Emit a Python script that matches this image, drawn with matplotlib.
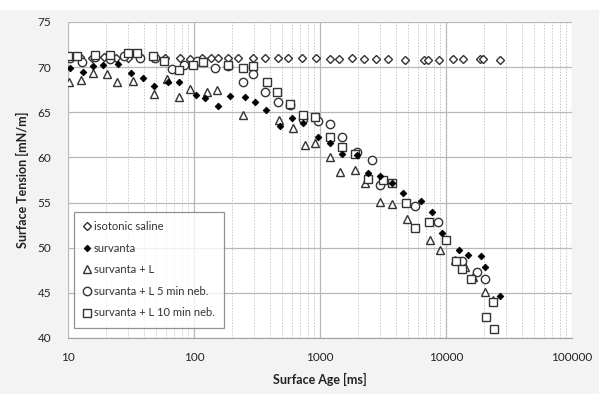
import matplotlib
matplotlib.use("Agg")
import matplotlib.pyplot as plt
from matplotlib.ticker import LogLocator, FixedLocator, NullFormatter
import numpy as np

plt.rcParams['font.family'] = ['Lato', 'DejaVu Sans']

# isotonic saline
saline_x = [10.4, 12.5, 15.5, 19.3, 24.0, 29.9, 37.2, 47.2, 59.3, 77.4, 93, 115.6, 136, 155,
            186, 223, 293, 365, 462, 553, 718, 929, 1196, 1409, 1785, 2226, 2770, 3446,
            4698, 6666, 7173, 8767, 11320, 13600, 18560, 19590, 27000]
saline_y = [71.0, 71.1, 71.0, 71.1, 71.0, 71.0, 71.1, 71.0, 71.0, 71.0, 70.9, 71.0, 71.0, 71.0,
            71.0, 71.0, 71.0, 71.0, 71.0, 71.0, 71.0, 71.0, 70.9, 70.9, 71.0, 70.9, 70.9, 70.9,
            70.8, 70.8, 70.8, 70.8, 70.9, 70.9, 70.9, 70.9, 70.8]

# survanta
surv_x = [10.4, 13.1, 15.8, 18.9, 24.9, 31.6, 39.3, 48.2, 62.2, 76.1, 103.8, 122.4, 155, 193,
          254, 305, 372, 481, 597, 730, 963, 1198, 1497, 1965, 2396, 2984, 3716, 4550, 6300,
          7770, 9330, 12740, 14990, 18990, 20430, 26700]
surv_y = [69.9, 69.5, 70.1, 70.2, 70.4, 69.3, 68.8, 67.9, 68.3, 68.3, 66.9, 66.6, 65.7, 66.8,
          66.7, 66.1, 65.3, 63.5, 64.4, 63.8, 62.3, 61.6, 60.4, 60.3, 58.3, 57.9, 57.2, 56.1, 55.2,
          54.0, 51.6, 49.8, 49.2, 49.1, 47.9, 44.7]

# survanta + L
survL_x = [10.2, 12.7, 15.8, 20.4, 24.5, 32.8, 48.2, 61.1, 76.1, 92.9, 127, 152, 245, 474, 610,
           757, 910, 1198, 1437, 1891, 2265, 2984, 3716, 4886, 7420, 8900, 11710, 14060, 16290,
           20430, 23620]
survL_y = [68.4, 68.6, 69.4, 69.2, 68.3, 68.5, 67.0, 68.7, 66.7, 67.6, 67.3, 67.5, 64.7, 64.2, 63.3,
           61.4, 61.6, 60.0, 58.4, 58.6, 57.2, 55.1, 54.8, 53.2, 50.9, 49.8, 48.6, 47.9, 46.8,
           45.1, 44.2]

# survanta + L 5 min neb.
survL5_x = [10.4, 12.9, 16.4, 21.5, 27.8, 37.2, 48.9, 66.9, 83.2, 105.6, 147, 186, 245, 295, 365,
            462, 575, 730, 963, 1198, 1497, 1965, 2595, 2984, 5680, 8620, 13500, 17470, 20430]
survL5_y = [71.0, 70.6, 71.1, 70.9, 71.2, 71.0, 71.0, 69.8, 70.2, 70.7, 69.9, 70.1, 68.3, 69.2, 67.2,
            66.1, 65.8, 64.3, 64.0, 63.7, 62.3, 60.6, 59.7, 57.0, 54.6, 52.9, 48.5, 47.3, 46.5]

# survanta + L 10 min neb.
survL10_x = [10.0, 11.8, 16.4, 21.5, 29.9, 35.3, 47.2, 57.7, 76.1, 98.2, 118, 186, 245, 295, 380,
             454, 575, 730, 910, 1198, 1497, 1891, 2396, 3160, 3716, 4810, 5680, 7300, 10070,
             12080, 13500, 15880, 20780, 23620, 24000]
survL10_y = [71.2, 71.2, 71.4, 71.3, 71.6, 71.6, 71.2, 70.7, 69.7, 70.2, 70.6, 70.2, 69.9, 70.1, 68.4,
             67.2, 65.9, 64.7, 64.5, 62.3, 61.2, 60.4, 57.6, 57.5, 57.2, 55.0, 52.2, 52.8, 50.9,
             48.5, 47.6, 46.5, 42.3, 44.0, 41.0]

labels = ["isotonic saline", "survanta", "survanta + L",
          "survanta + L 5 min neb.", "survanta + L 10 min neb."]

fig = plt.figure(figsize=(5.99, 3.94), dpi=100, facecolor='#f3f3f3')
fig.patches.append(plt.Rectangle((0, 1 - 10/394), 1, 10/394, transform=fig.transFigure,
                                 facecolor='white', edgecolor='none', zorder=0))
ax = fig.add_axes([68/599, 1 - 338/394, 504/599, 316/394])
ax.set_facecolor('white')

ec = '#333333'
ax.plot(saline_x, saline_y, ls='none', marker='D', ms=3.6, mfc='white', mec=ec, mew=1.0,
        label=labels[0], zorder=3)
ax.plot(survL_x, survL_y, ls='none', marker='^', ms=5.6, mfc='white', mec=ec, mew=1.0,
        label=labels[2], zorder=3)
ax.plot(survL5_x, survL5_y, ls='none', marker='o', ms=6.0, mfc='white', mec=ec, mew=1.0,
        label=labels[3], zorder=3)
ax.plot(survL10_x, survL10_y, ls='none', marker='s', ms=5.8, mfc='white', mec=ec, mew=1.0,
        label=labels[4], zorder=3)
ax.plot(surv_x, surv_y, ls='none', marker='D', ms=3.4, mfc='black', mec='black', mew=0.6,
        label=labels[1], zorder=4)

ax.set_xscale('log')
ax.set_xlim(10, 100000)
ax.set_ylim(40, 75)
ax.set_yticks([40, 45, 50, 55, 60, 65, 70, 75])
ax.xaxis.set_major_locator(FixedLocator([10, 100, 1000, 10000, 100000]))
ax.set_xticklabels(['10', '100', '1000', '10000', '100000'])
ax.xaxis.set_minor_locator(LogLocator(base=10, subs=np.arange(2, 10)))
ax.xaxis.set_minor_formatter(NullFormatter())

ax.grid(True, which='major', axis='both', color='#b8b8b8', lw=0.9)
ax.grid(True, which='minor', axis='x', color='#c8c8c8', lw=0.7, ls=(0, (1.5, 1.5)))
ax.set_axisbelow(True)

for s in ['top', 'right']:
    ax.spines[s].set_visible(False)
ax.spines['left'].set_visible(False)
ax.spines['bottom'].set_color('#a0a0a0')
ax.tick_params(axis='both', which='both', length=0, labelsize=8.5, colors='#222222', pad=8)
ax.tick_params(axis='x', which='major', pad=10)
ax.tick_params(axis='y', pad=12)

ax.set_xlabel('Surface Age [ms]', fontsize=9, fontweight='bold', color='#222222', labelpad=7)
ax.set_ylabel('Surface Tension [mN/m]', fontsize=9, fontweight='bold', color='#222222', labelpad=6)

h, l = ax.get_legend_handles_labels()
order = [0, 4, 1, 2, 3]
leg = ax.legend([h[i] for i in order], [l[i] for i in order],
                loc='lower left', bbox_to_anchor=(0.012, 0.032), fontsize=8, frameon=True,
                fancybox=False, edgecolor='#777777', handlelength=0.6, handletextpad=0.35,
                labelspacing=0.95, borderpad=0.85, borderaxespad=0)
leg.get_frame().set_linewidth(0.9)
for t in leg.get_texts():
    t.set_color('#333333')

fig.savefig('out.png', dpi=100, facecolor=fig.get_facecolor())
